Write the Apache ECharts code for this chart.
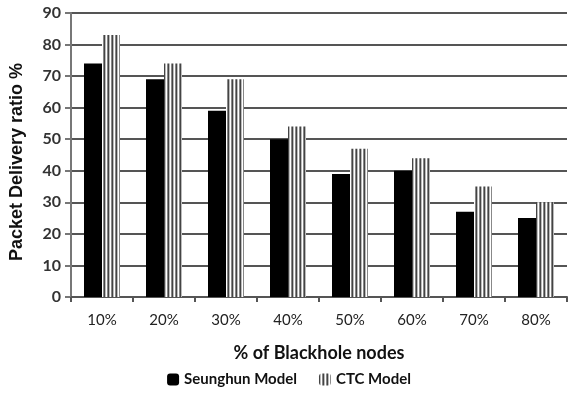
<!DOCTYPE html>
<html>
<head>
<meta charset="utf-8">
<script src="https://cdn.jsdelivr.net/npm/echarts@6/dist/echarts.min.js"></script>
<style>
  html, body { margin: 0; padding: 0; background: #fff; }
  #chart { width: 578px; height: 394px; }
</style>
</head>
<body>
<div id="chart"></div>
<script>
// Share of blackhole nodes in the network
const categories = ['10%', '20%', '30%', '40%', '50%', '60%', '70%', '80%'];
// Packet delivery ratio (%) per model
const seunghunValues = [74, 69, 59, 50, 39, 40, 27, 25];
const ctcValues = [83, 74, 69, 54, 47, 44, 35, 30];

// Vertical stripe fill for the CTC bars
function stripePattern() {
  const c = document.createElement('canvas');
  c.width = 4; c.height = 4;
  const g = c.getContext('2d');
  const cols = ['#444', '#bbb', '#fff', '#888'];
  cols.forEach((col, i) => { g.fillStyle = col; g.fillRect(i, 0, 1, 4); });
  return c;
}

const labelFont = 'Lato, "Open Sans", sans-serif';
const chart = echarts.init(document.getElementById('chart'), null, { renderer: 'canvas' });
chart.setOption({
  animation: false,
  backgroundColor: '#fff',
  grid: { left: 67, right: 11, top: 13, bottom: 97 },
  legend: {
    bottom: 2,
    left: 'center',
    itemWidth: 12,
    itemHeight: 12,
    itemGap: 22,
    textStyle: { fontFamily: labelFont, fontWeight: 'bold', fontSize: 15, color: '#111' },
    data: ['Seunghun Model', 'CTC Model']
  },
  xAxis: {
    type: 'category',
    data: categories,
    name: '% of Blackhole nodes',
    nameLocation: 'middle',
    nameGap: 47,
    nameTextStyle: { fontFamily: labelFont, fontWeight: 'bold', fontSize: 18, color: '#111' },
    axisLine: { lineStyle: { color: '#555', width: 2 } },
    axisTick: { show: true, length: 5, lineStyle: { color: '#555', width: 2 } },
    axisLabel: { fontFamily: labelFont, fontSize: 15, color: '#222', margin: 16 }
  },
  yAxis: {
    type: 'value',
    min: 0, max: 90, interval: 10,
    name: 'Packet Delivery ratio %',
    nameLocation: 'middle',
    nameGap: 45,
    nameTextStyle: {
      fontFamily: 'Liberation Sans, Arial, sans-serif', fontWeight: 'bold', fontSize: 18, color: '#111',
      padding: [0, 14, 0, 0]
    },
    axisLine: { show: true, lineStyle: { color: '#777', width: 2 } },
    axisTick: { show: true, length: 6, lineStyle: { color: '#777', width: 2 } },
    axisLabel: { fontFamily: labelFont, fontSize: 16, fontWeight: 'bold', color: '#333', margin: 10 },
    splitLine: { lineStyle: { color: '#555', width: 2 } }
  },
  series: [
    {
      name: 'Seunghun Model',
      type: 'bar',
      data: seunghunValues,
      barWidth: 18,
      barGap: '0%',
      itemStyle: { color: '#000' }
    },
    {
      name: 'CTC Model',
      type: 'bar',
      data: ctcValues,
      barWidth: 18,
      barGap: '0%',
      itemStyle: { color: { image: stripePattern(), repeat: 'repeat' } }
    }
  ]
});
</script>
</body>
</html>
